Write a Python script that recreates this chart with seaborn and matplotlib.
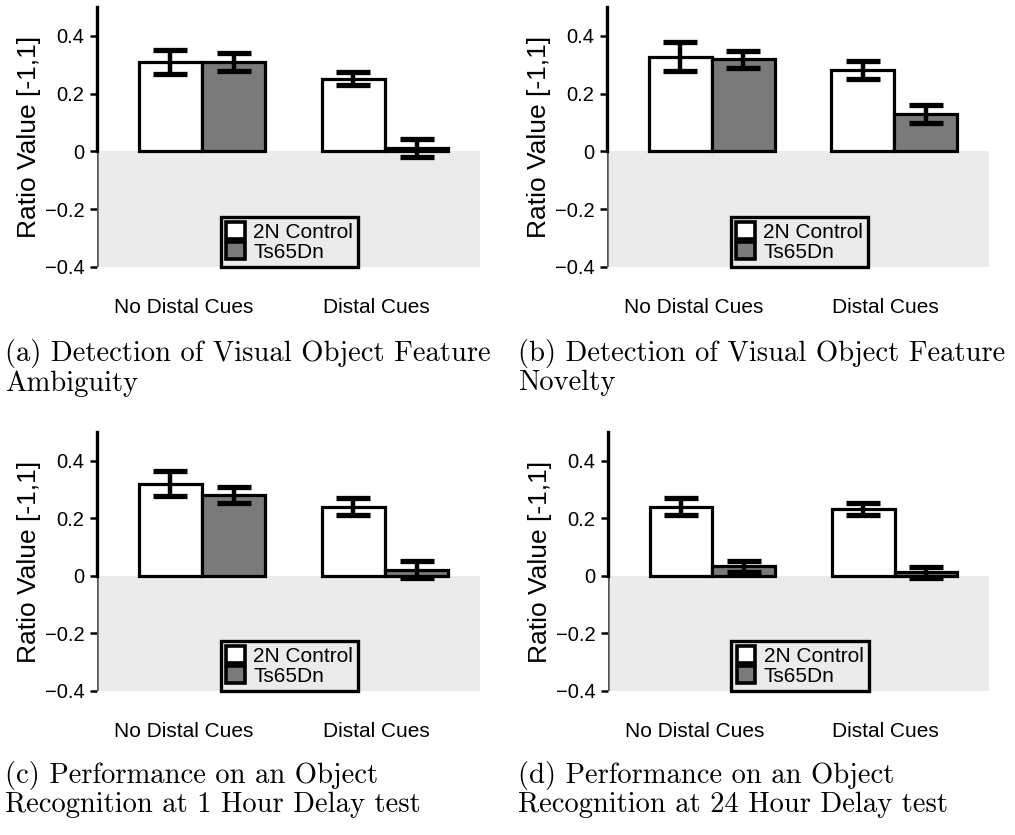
import numpy as np
import pandas as pd
import matplotlib
matplotlib.use("Agg")
import matplotlib.pyplot as plt
from matplotlib.patches import Patch
from matplotlib.transforms import ScaledTranslation
import seaborn as sns

# ---- data ----
conditions = ["No Distal Cues", "Distal Cues"]
groups = ["2N Control", "Ts65Dn"]

a_control = [0.31, 0.252]
a_control_err = [0.042, 0.022]
a_ts = [0.31, 0.012]
a_ts_err = [0.030, 0.030]

b_control = [0.328, 0.281]
b_control_err = [0.051, 0.031]
b_ts = [0.319, 0.130]
b_ts_err = [0.030, 0.030]

c_control = [0.321, 0.241]
c_control_err = [0.042, 0.030]
c_ts = [0.281, 0.022]
c_ts_err = [0.029, 0.030]

d_control = [0.240, 0.232]
d_control_err = [0.030, 0.020]
d_ts = [0.034, 0.013]
d_ts_err = [0.019, 0.019]

captions = [
    "(a) Detection of Visual Object Feature\nAmbiguity",
    "(b) Detection of Visual Object Feature\nNovelty",
    "(c) Performance on an Object\nRecognition at 1 Hour Delay test",
    "(d) Performance on an Object\nRecognition at 24 Hour Delay test",
]
yticks = [-0.4, -0.2, 0, 0.2, 0.4]
ytick_labels = ["\u22120.4", "\u22120.2", "0", "0.2", "0.4"]
ylabel = "Ratio Value [-1,1]"

panels = [
    (a_control, a_control_err, a_ts, a_ts_err),
    (b_control, b_control_err, b_ts, b_ts_err),
    (c_control, c_control_err, c_ts, c_ts_err),
    (d_control, d_control_err, d_ts, d_ts_err),
]

# ---- style ----
sns.set_theme(style="white")
plt.rcParams["font.family"] = ["Liberation Sans", "DejaVu Sans"]
plt.rcParams["text.color"] = "black"
plt.rcParams["axes.labelcolor"] = "black"
plt.rcParams["xtick.color"] = "black"
plt.rcParams["ytick.color"] = "black"
palette = {"2N Control": "#ffffff", "Ts65Dn": "#7a7a7a"}

fig = plt.figure(figsize=(10.15, 8.35), dpi=100)

W, H = 1015.0, 835.0
# axes boxes in pixels: left, top, right, bottom
boxes = [
    (97, 7, 480, 267),
    (607, 7, 989, 267),
    (97, 432, 480, 691),
    (608, 432, 989, 691),
]
caption_pos = [(5, 339), (518, 339), (5, 761), (518, 761)]
label_shift_px = [-18, -9]

for i, ((ctl, ctl_e, ts, ts_e), box) in enumerate(zip(panels, boxes)):
    l, t, r, b = box
    ax = fig.add_axes([l / W, 1 - b / H, (r - l) / W, (b - t) / H])
    df = pd.DataFrame({
        "condition": conditions * 2,
        "group": [groups[0]] * 2 + [groups[1]] * 2,
        "value": list(ctl) + list(ts),
    })
    sns.barplot(data=df, x="condition", y="value", hue="group",
                order=conditions, hue_order=groups, palette=palette,
                edgecolor="black", linewidth=2.3, width=0.69,
                errorbar=None, legend=False, ax=ax, zorder=3)
    errs = [ctl_e, ts_e]
    for cont, err in zip(ax.containers, errs):
        xs = [p.get_x() + p.get_width() / 2 for p in cont.patches]
        hs = [p.get_height() for p in cont.patches]
        ax.errorbar(xs, hs, yerr=err, fmt="none", ecolor="black",
                    elinewidth=3.2, capsize=12, capthick=3.8, zorder=4)

    ax.set_xlim(-0.574, 1.519)
    ax.set_ylim(-0.4, 0.5)
    ax.axhspan(-0.4, 0, color="#ebebeb", zorder=0, lw=0)
    for s in ["top", "right", "bottom"]:
        ax.spines[s].set_visible(False)
    ax.spines["left"].set_bounds(0, 0.5)
    ax.spines["left"].set_linewidth(2.4)
    ax.spines["left"].set_color("black")
    ax.axvline(-0.574, ymin=0, ymax=0.4 / 0.9, color="#555555", lw=1.8, zorder=1)

    ax.set_yticks(yticks)
    ax.set_yticklabels(ytick_labels)
    ax.tick_params(axis="y", direction="out", length=5, width=1.8, color="black",
                   labelcolor="black", labelsize=14.5, pad=4, left=True)
    ax.tick_params(axis="x", length=0, labelsize=15, pad=22, labelcolor="black")
    for lbl, dx in zip(ax.get_xticklabels(), label_shift_px):
        lbl.set_transform(lbl.get_transform() +
                          ScaledTranslation(dx / 100.0, 0, fig.dpi_scale_trans))
    ax.set_xlabel("")
    ax.set_ylabel(ylabel, fontsize=19, labelpad=2.5, color="black")

    handles = [Patch(facecolor=palette[g], edgecolor="black", linewidth=2.6,
                     joinstyle="round") for g in groups]
    leg = ax.legend(handles, groups, loc="lower left", bbox_to_anchor=(0.324, 0.0),
                    fontsize=15, frameon=True, fancybox=False, borderaxespad=0,
                    borderpad=0.25, handlelength=0.9, handleheight=0.9,
                    handletextpad=0.4, labelspacing=0.02)
    for txt in leg.get_texts():
        txt.set_color("black")
    leg.get_frame().set_edgecolor("black")
    leg.get_frame().set_linewidth(2.4)
    leg.get_frame().set_facecolor("#ebebeb")
    leg.get_frame().set_alpha(1)
    leg.set_zorder(5)

    cx, cy = caption_pos[i]
    fig.text(cx / W, 1 - cy / H, captions[i], family="cmr10", fontsize=20.6,
             va="top", ha="left", linespacing=1.1, color="black")

fig.savefig("out.png", dpi=100)
